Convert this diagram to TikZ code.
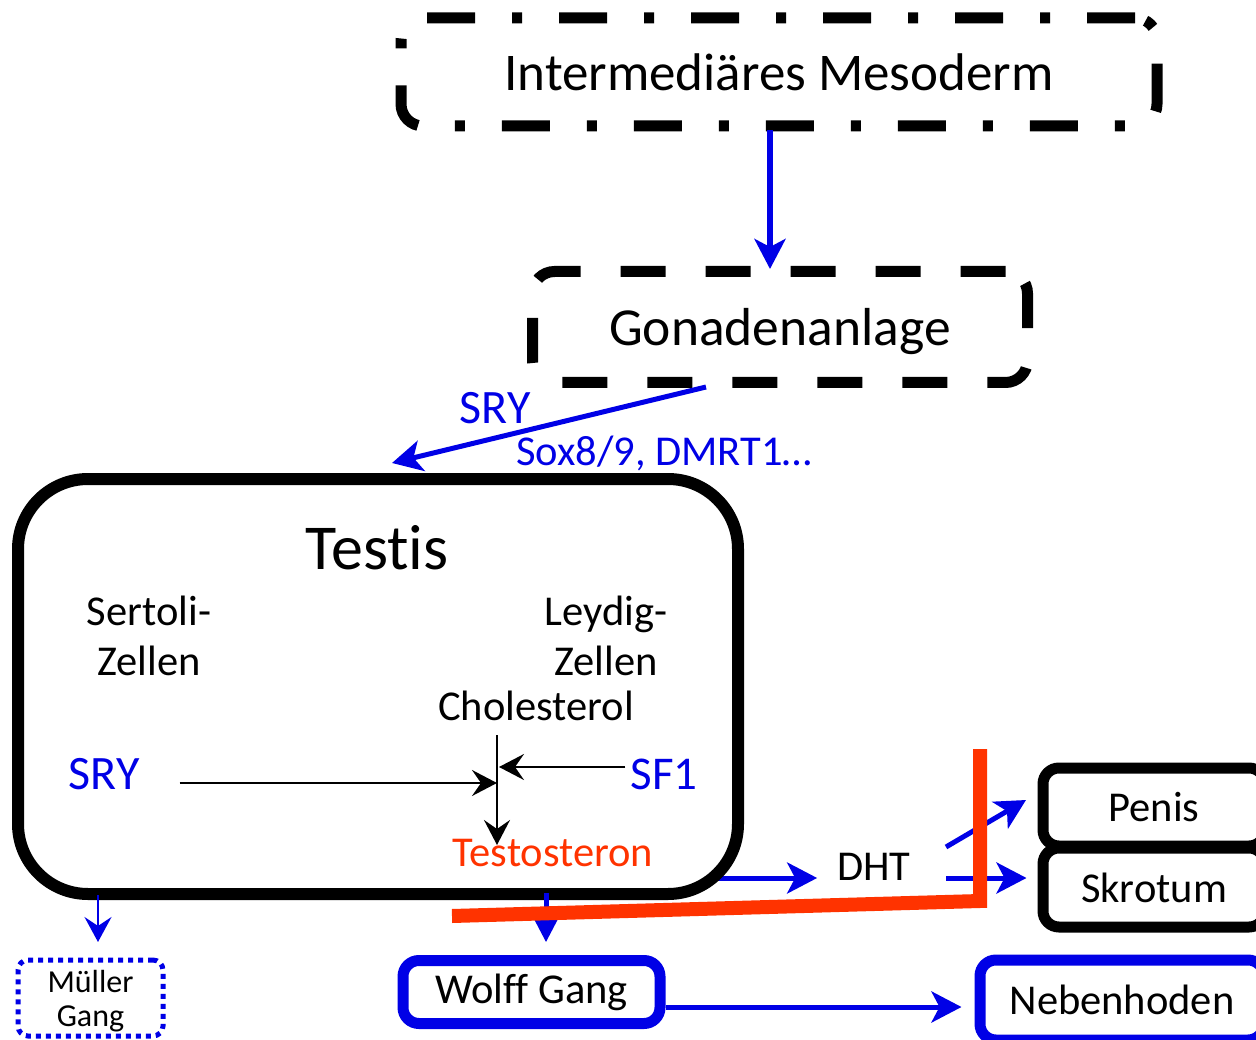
\documentclass[tikz,border=0pt]{standalone}
\usepackage{fontspec}
\setmainfont{Carlito}[Ligatures={NoCommon,NoContextual}]
\usetikzlibrary{arrows.meta,backgrounds}
\definecolor{dblue}{RGB}{0,0,230}
\definecolor{hred}{RGB}{255,51,0}

\begin{document}
\begin{tikzpicture}[x=1pt,y=-1pt,
  lbl/.style={inner sep=0pt, align=center},
  fs/.style={font=\fontsize{#1}{50}\selectfont},
  box/.style={draw, fill=white, rounded corners=#1, inner sep=0pt, align=center},
  bigtip/.style={-{Stealth[length=30pt,width=31pt,inset=8pt]}},
  smalltip/.style={-{Stealth[length=25pt,width=26pt,inset=9pt]}},
  flow/.style={draw=dblue, line width=5pt, bigtip},
  inner/.style={draw=black, line width=2pt, smalltip},
  stop/.style={draw=hred, line width=14pt}
]
\useasboundingbox (0,0) rectangle (1256,1040);
\clip (0,0) rectangle (1256,1040);

% --- stages of gonad development ---
\node[box=22pt, line width=11pt, dash pattern=on 48pt off 37pt on 10pt off 37pt,
      minimum width=756pt, minimum height=108pt, fs=53] (meso) at (779,72) {Intermediäres Mesoderm};
\node[box=22pt, line width=11pt, dash pattern=on 45pt off 40pt, text depth=0pt,
      minimum width=495pt, minimum height=111pt, fs=53.5] (gonad) at (780,327) {Gonadenanlage};
\node[box=70pt, line width=12pt, minimum width=720pt, minimum height=415pt] (testis) at (378,686.5) {};

% --- contents of the testis ---
\node[lbl, fs=64, anchor=base] (testisname) at (377,569) {Testis};
\node[lbl, fs=42.5, anchor=base] (sertoli) at (149,675) {Sertoli-\\Zellen};
\node[lbl, fs=42.5, anchor=base] (leydig) at (606,675) {Leydig-\\Zellen};
\node[lbl, fs=42.5, anchor=base] (chol) at (536,720) {Cholesterol};
\node[lbl, fs=48, anchor=base, text=dblue] (sryin) at (104,789) {SRY};
\node[lbl, fs=47, anchor=base, text=dblue] (sf1) at (664,789) {SF1};
\node[lbl, fs=42.5, anchor=base, text=hred] (testo) at (553,866) {Testosteron};

% --- target organs ---
\node[lbl, fs=42.5] (dht) at (874,867) {DHT};
\node[box=16pt, line width=11pt, minimum width=222pt, minimum height=78pt, fs=42.5] (penis) at (1154,807) {Penis};
\node[box=16pt, line width=11pt, minimum width=222pt, minimum height=79pt, fs=42.5] (skrotum) at (1154,887.5) {Skrotum};
\node[box=16pt, draw=dblue, line width=11pt, minimum width=257pt, minimum height=63pt, fs=42.5] (wolff) at (531.5,992) {Wolff Gang};
\node[box=16pt, draw=dblue, line width=11pt, minimum width=284pt, minimum height=80pt, fs=42.5] (neben) at (1122,1000) {Nebenhoden};
\node[box=10pt, draw=dblue, line width=5pt, dash pattern=on 5pt off 5pt,
      minimum width=145pt, minimum height=76pt] (mueller) at (90.5,998) {};
\node[lbl, font=\fontsize{32}{34}\selectfont, anchor=base] (muellertext) at (90.5,1026) {Müller\\Gang};

% --- anchor points of the connectors ---
\coordinate (mesoout) at (770,130);
\coordinate (gonadin) at (770,269);
\coordinate (gonadout) at (706,387);
\coordinate (testisin) at (392,463);
\coordinate (stemtop) at (497,735);
\coordinate (stembot) at (497,845);
\coordinate (stemjoin) at (497,783);
\coordinate (sfjoin) at (499,767);
\coordinate (dhtout) at (712,878);
\coordinate (wolffout) at (546,893);
\coordinate (wolffin) at (546,942);
\coordinate (muellerout) at (98,895);
\coordinate (muellerin) at (98,942);
\coordinate (pstart) at (946,847);
\coordinate (pend) at (1026,800);
\coordinate (sstart) at (946,878);
\coordinate (hbend) at (980,901);

% --- connectors ---
\begin{scope}[on background layer]
  \draw[flow] (dhtout) -- ([xshift=-20pt]dht.west |- dhtout);
\end{scope}
\draw[flow, line width=6pt] (mesoout) -- (gonadin);
\draw[flow] (gonadout) -- (testisin);
\node[lbl, fs=48, text=dblue, anchor=base] (sryout) at (495,424) {SRY};
\node[lbl, fs=42.5, text=dblue, anchor=base] (sox) at (664,465) {Sox8/9, DMRT1…};

\draw[inner] (stemtop) -- (stembot);
\draw[inner] ([xshift=40pt]sryin.east |- stemjoin) -- (stemjoin);
\draw[inner] ([xshift=-5pt]sf1.west |- sfjoin) -- (sfjoin);

\draw[flow] (pstart) -- (pend);
\draw[flow] (sstart) -- ([xshift=-11pt]skrotum.west |- sstart);
\draw[flow] (wolffout) -- (wolffin);
\draw[flow] (wolff.east |- 0,1007) -- ([xshift=-13pt]neben.west |- 0,1007);
\draw[draw=dblue, line width=2.5pt, -{Stealth[length=25pt,width=27pt,inset=9pt]}]
  (muellerout) -- (muellerin);

% --- androgen barrier ---
\draw[stop, line join=miter] (452,916) -- (hbend) -- (980,749);
\end{tikzpicture}
\end{document}
